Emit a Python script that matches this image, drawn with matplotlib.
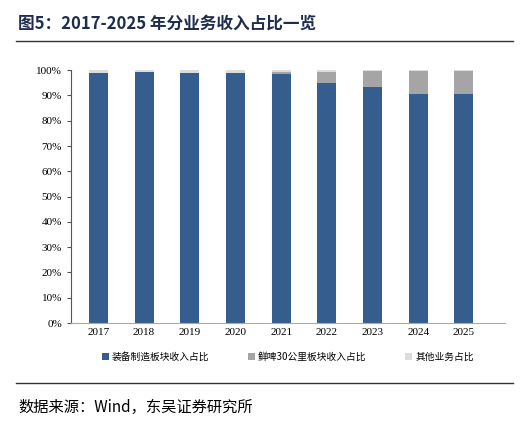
import numpy as np
import matplotlib
import matplotlib.pyplot as plt
from matplotlib.ticker import PercentFormatter

matplotlib.use('agg')
plt.rcParams['font.family'] = ['Noto Sans CJK SC', 'DejaVu Sans']

years = ["2017", "2018", "2019", "2020", "2021", "2022", "2023", "2024", "2025"]
equip = [98.8, 99.2, 98.9, 98.9, 98.6, 94.9, 93.3, 90.5, 90.7]
beer = [0.0, 0.0, 0.1, 0.1, 0.5, 4.4, 6.2, 9.0, 8.8]
other = [100 - a - b for a, b in zip(equip, beer)]

fig = plt.figure(figsize=[5.26, 4.33], dpi=100)
ax = fig.add_axes([0.135, 0.254, 0.825, 0.584])
x = np.arange(len(years))
w = 0.42
ax.bar(x, equip, w, color="#355E8F", label="装备制造板块收入占比")
ax.bar(x, beer, w, bottom=equip, color="#A5A5A5", label="鲜啤30公里板块收入占比")
ax.bar(x, other, w, bottom=np.add(equip, beer), color="#DCDCDC", label="其他业务占比")

ax.set_ylim(0, 100)
ax.set_xlim(-0.6, len(years) - 0.1)
ax.set_yticks(range(0, 101, 10))
ax.yaxis.set_major_formatter(PercentFormatter(decimals=0))
ax.set_xticks(x)
ax.set_xticklabels(years, fontfamily="Liberation Serif")
for lab in ax.get_yticklabels():
    lab.set_fontfamily("Liberation Serif")
ax.tick_params(labelsize=8, length=3, color="#555555")
ax.tick_params(axis='x', length=0)
for s in ["top", "right"]:
    ax.spines[s].set_visible(False)
ax.spines["left"].set_color("#555555")
ax.spines["bottom"].set_color("#aaaaaa")

ax.legend(loc="upper center", bbox_to_anchor=(0.5, -0.08), ncols=3, frameon=False,
          fontsize=7, handlelength=0.7, handleheight=0.7, handletextpad=0.3, columnspacing=4)

fig.text(0.035, 0.945, "图5：2017-2025 年分业务收入占比一览", fontsize=12, fontweight="bold",
         color="#1F2D4F", va="center")
fig.add_artist(plt.Line2D([0.03, 0.975], [0.905, 0.905], color="#333333", lw=1))
fig.add_artist(plt.Line2D([0.03, 0.975], [0.115, 0.115], color="#333333", lw=1))
fig.text(0.035, 0.06, "数据来源：Wind，东吴证券研究所", fontsize=11, va="center")

plt.savefig("out.png")
